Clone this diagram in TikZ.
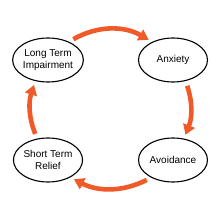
\documentclass[tikz,border=0pt]{standalone}
\usepackage{fontspec}
\setmainfont{Liberation Sans}
\usetikzlibrary{arrows.meta,shapes.geometric}
\definecolor{cycleorange}{RGB}{240,90,40}

\begin{document}
\begin{tikzpicture}[x=1pt,y=1pt,
  state/.style={draw,ellipse,line width=1.1pt,minimum width=69pt,minimum height=44pt,
    inner sep=0pt,align=center,font=\fontsize{10}{12}\selectfont},
  cyc/.style={draw=cycleorange,line width=4.6pt,-{Triangle[length=10pt,width=12pt]},
    shorten <=5pt,shorten >=4pt}]
\useasboundingbox (0,0) rectangle (220,220);
\node[state] (lti) at (48,160) {Long Term\\Impairment};
\node[state] (anx) at (173,160) {Anxiety};
\node[state] (avo) at (173,60) {Avoidance};
\node[state] (str) at (48,60) {Short Term\\Relief};
\draw[cyc] (lti.41) to[bend left=30] (anx.139);
\draw[cyc] (anx.-59) to[bend left=20] (avo.63);
\draw[cyc] (avo.219) to[bend left=27] (str.-38);
\draw[cyc] (str.117) to[bend left=20] (lti.239);
\end{tikzpicture}
\end{document}
